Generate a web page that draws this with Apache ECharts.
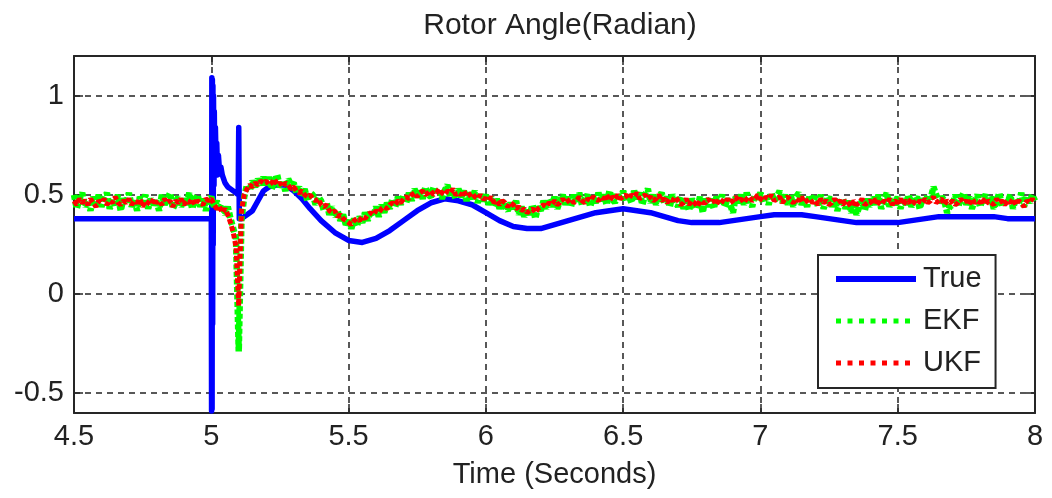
<!DOCTYPE html>
<html>
<head>
<meta charset="utf-8">
<title>Rotor Angle</title>
<script src="https://cdn.jsdelivr.net/npm/echarts@6/dist/echarts.min.js"></script>
<style>
    html, body { margin: 0; padding: 0; background: #fff; }
    #main { width: 1052px; height: 498px; }
</style>
</head>
<body>
<div id="main"></div>
<script>
// 时间刻度 / 纵轴刻度
const xTicks = [4.5, 5, 5.5, 6, 6.5, 7, 7.5, 8];
const yTicks = [-0.5, 0, 0.5, 1];

// True 曲线 (时间, 角度)
const trueTime = [4.5, 5.0, 5.001, 5.002, 5.003, 5.004, 5.005, 5.006, 5.007, 5.008, 5.010, 5.011, 5.013, 5.015, 5.018, 5.020,
    5.023, 5.026, 5.030, 5.035, 5.040, 5.050, 5.060, 5.070, 5.080, 5.090, 5.098, 5.100, 5.102, 5.110, 5.130, 5.150,
    5.170, 5.190, 5.210, 5.240, 5.270, 5.30, 5.33, 5.36, 5.40, 5.45, 5.50, 5.55, 5.60, 5.65, 5.70, 5.75, 5.80, 5.85,
    5.90, 5.95, 6.00, 6.05, 6.10, 6.15, 6.20, 6.25, 6.30, 6.35, 6.40, 6.45, 6.50, 6.55, 6.60, 6.65, 6.70, 6.75, 6.80,
    6.85, 6.90, 6.95, 7.00, 7.05, 7.10, 7.15, 7.20, 7.25, 7.30, 7.35, 7.40, 7.45, 7.50, 7.55, 7.60, 7.65, 7.70, 7.75,
    7.80, 7.85, 7.90, 7.95, 8.00];
const trueAngle = [0.38, 0.38, -0.59, 1.09, -0.58, 1.08, -0.15, 1.05, 0.25, 1.00, 0.55, 0.92, 0.62, 0.84, 0.63, 0.76,
    0.60, 0.70, 0.62, 0.64, 0.60, 0.56, 0.54, 0.53, 0.52, 0.51, 0.50, 0.84, 0.38, 0.38, 0.40, 0.42,
    0.47, 0.52, 0.54, 0.55, 0.55, 0.52, 0.48, 0.43, 0.37, 0.31, 0.27, 0.26, 0.28, 0.32, 0.37, 0.42, 0.46, 0.48,
    0.47, 0.45, 0.41, 0.37, 0.34, 0.33, 0.33, 0.35, 0.37, 0.39, 0.41, 0.42, 0.43, 0.42, 0.41, 0.39, 0.37, 0.36, 0.36,
    0.36, 0.37, 0.38, 0.39, 0.40, 0.40, 0.40, 0.39, 0.38, 0.37, 0.36, 0.36, 0.36, 0.36, 0.37, 0.38, 0.39, 0.39, 0.39,
    0.39, 0.39, 0.38, 0.38, 0.38];

// EKF / UKF 估计值, 从 4.5s 开始每 0.01s 一个点
const filterStart = 4.5;
const filterStep = 0.01;
const ekfAngle = [
    0.50, 0.43, 0.48, 0.51, 0.44, 0.47, 0.42, 0.49, 0.45, 0.50,
    0.44, 0.48, 0.51, 0.43, 0.47, 0.45, 0.50, 0.42, 0.48, 0.46,
    0.51, 0.44, 0.47, 0.42, 0.49, 0.46, 0.50, 0.43, 0.48, 0.45,
    0.47, 0.42, 0.50, 0.45, 0.48, 0.51, 0.43, 0.46, 0.49, 0.44,
    0.48, 0.45, 0.51, 0.43, 0.47, 0.50, 0.44, 0.48, 0.42, 0.47,
    0.49, 0.44, 0.47, 0.42, 0.45, 0.40, 0.44, 0.38, 0.33, 0.28,
    -0.29, 0.38, 0.49, 0.55, 0.52, 0.57, 0.54, 0.58, 0.55, 0.59,
    0.55, 0.59, 0.53, 0.57, 0.60, 0.54, 0.56, 0.52, 0.58, 0.55,
    0.56, 0.51, 0.54, 0.49, 0.53, 0.47, 0.51, 0.50, 0.45, 0.49,
    0.47, 0.42, 0.46, 0.40, 0.44, 0.39, 0.42, 0.37, 0.40, 0.35,
    0.37, 0.33, 0.38, 0.34, 0.39, 0.36, 0.41, 0.37, 0.42, 0.39,
    0.44, 0.39, 0.45, 0.41, 0.46, 0.43, 0.48, 0.44, 0.49, 0.45,
    0.50, 0.46, 0.51, 0.47, 0.53, 0.49, 0.52, 0.48, 0.54, 0.50,
    0.49, 0.54, 0.50, 0.53, 0.48, 0.52, 0.55, 0.49, 0.52, 0.48,
    0.53, 0.49, 0.52, 0.47, 0.51, 0.48, 0.52, 0.46, 0.50, 0.47,
    0.50, 0.45, 0.49, 0.44, 0.48, 0.43, 0.47, 0.44, 0.42, 0.46,
    0.43, 0.47, 0.40, 0.44, 0.39, 0.43, 0.40, 0.45, 0.38, 0.44,
    0.42, 0.47, 0.43, 0.48, 0.44, 0.49, 0.43, 0.47, 0.50, 0.45,
    0.49, 0.44, 0.50, 0.46, 0.51, 0.45, 0.48, 0.50, 0.44, 0.49,
    0.46, 0.51, 0.47, 0.50, 0.45, 0.52, 0.48, 0.46, 0.51, 0.47,
    0.52, 0.47, 0.50, 0.46, 0.52, 0.48, 0.51, 0.45, 0.50, 0.53,
    0.46, 0.50, 0.45, 0.49, 0.51, 0.46, 0.49, 0.44, 0.50, 0.47,
    0.44, 0.49, 0.43, 0.47, 0.42, 0.48, 0.45, 0.43, 0.49, 0.41,
    0.49, 0.44, 0.48, 0.43, 0.49, 0.46, 0.50, 0.44, 0.48, 0.45,
    0.41, 0.49, 0.46, 0.50, 0.45, 0.51, 0.47, 0.44, 0.50, 0.48,
    0.51, 0.46, 0.50, 0.45, 0.51, 0.47, 0.49, 0.52, 0.46, 0.50,
    0.45, 0.50, 0.44, 0.49, 0.51, 0.45, 0.48, 0.44, 0.50, 0.47,
    0.49, 0.44, 0.50, 0.43, 0.47, 0.49, 0.44, 0.48, 0.42, 0.46,
    0.48, 0.43, 0.47, 0.41, 0.45, 0.40, 0.44, 0.47, 0.42, 0.48,
    0.44, 0.49, 0.45, 0.50, 0.43, 0.47, 0.51, 0.44, 0.48, 0.45,
    0.49, 0.43, 0.48, 0.45, 0.50, 0.44, 0.47, 0.49, 0.43, 0.48,
    0.46, 0.50, 0.48, 0.54, 0.50, 0.46, 0.49, 0.47, 0.41, 0.44,
    0.45, 0.50, 0.44, 0.48, 0.51, 0.45, 0.49, 0.43, 0.47, 0.50,
    0.44, 0.48, 0.50, 0.45, 0.49, 0.43, 0.47, 0.51, 0.44, 0.48,
    0.46, 0.50, 0.43, 0.48, 0.45, 0.51, 0.44, 0.49, 0.46, 0.50,
    0.47
];
const ukfAngle = [
    0.47, 0.45, 0.48, 0.46, 0.47, 0.45, 0.48, 0.46, 0.44, 0.47,
    0.46, 0.48, 0.45, 0.47, 0.46, 0.49, 0.46, 0.45, 0.47, 0.46,
    0.48, 0.45, 0.47, 0.46, 0.48, 0.44, 0.47, 0.46, 0.45, 0.48,
    0.46, 0.47, 0.45, 0.48, 0.46, 0.47, 0.44, 0.47, 0.46, 0.48,
    0.45, 0.47, 0.46, 0.48, 0.45, 0.47, 0.46, 0.45, 0.48, 0.47,
    0.48, 0.45, 0.43, 0.44, 0.41, 0.43, 0.40, 0.36, 0.31, 0.24,
    -0.06, 0.42, 0.50, 0.53, 0.55, 0.54, 0.56, 0.55, 0.57, 0.56,
    0.57, 0.55, 0.56, 0.58, 0.55, 0.56, 0.54, 0.56, 0.55, 0.53,
    0.54, 0.52, 0.51, 0.52, 0.50, 0.49, 0.50, 0.48, 0.47, 0.48,
    0.45, 0.44, 0.45, 0.42, 0.41, 0.42, 0.39, 0.40, 0.38, 0.37,
    0.36, 0.35, 0.37, 0.38, 0.37, 0.39, 0.38, 0.40, 0.41, 0.40,
    0.42, 0.41, 0.43, 0.44, 0.43, 0.45, 0.46, 0.45, 0.47, 0.46,
    0.48, 0.49, 0.48, 0.50, 0.51, 0.49, 0.51, 0.52, 0.50, 0.51,
    0.52, 0.50, 0.51, 0.53, 0.51, 0.50, 0.52, 0.51, 0.53, 0.50,
    0.51, 0.50, 0.52, 0.49, 0.50, 0.51, 0.49, 0.48, 0.50, 0.48,
    0.48, 0.47, 0.49, 0.46, 0.47, 0.45, 0.47, 0.46, 0.44, 0.46,
    0.45, 0.43, 0.44, 0.42, 0.43, 0.41, 0.42, 0.43, 0.41, 0.43,
    0.44, 0.45, 0.44, 0.46, 0.45, 0.47, 0.45, 0.46, 0.48, 0.46,
    0.47, 0.48, 0.46, 0.47, 0.49, 0.47, 0.46, 0.48, 0.47, 0.49,
    0.48, 0.47, 0.49, 0.48, 0.50, 0.47, 0.49, 0.48, 0.50, 0.48,
    0.49, 0.50, 0.48, 0.50, 0.49, 0.51, 0.48, 0.49, 0.50, 0.48,
    0.49, 0.47, 0.48, 0.50, 0.47, 0.48, 0.46, 0.48, 0.47, 0.49,
    0.47, 0.45, 0.46, 0.48, 0.45, 0.47, 0.46, 0.44, 0.47, 0.46,
    0.46, 0.48, 0.46, 0.47, 0.45, 0.48, 0.47, 0.46, 0.48, 0.46,
    0.47, 0.49, 0.47, 0.48, 0.46, 0.48, 0.49, 0.47, 0.48, 0.50,
    0.48, 0.47, 0.49, 0.48, 0.50, 0.47, 0.48, 0.49, 0.46, 0.48,
    0.49, 0.47, 0.46, 0.48, 0.47, 0.49, 0.46, 0.47, 0.48, 0.46,
    0.47, 0.45, 0.48, 0.46, 0.47, 0.45, 0.46, 0.48, 0.46, 0.47,
    0.45, 0.47, 0.46, 0.44, 0.47, 0.45, 0.46, 0.48, 0.45, 0.46,
    0.47, 0.45, 0.48, 0.46, 0.45, 0.47, 0.46, 0.48, 0.45, 0.47,
    0.46, 0.48, 0.45, 0.47, 0.46, 0.48, 0.46, 0.45, 0.47, 0.46,
    0.48, 0.46, 0.47, 0.49, 0.46, 0.47, 0.48, 0.45, 0.47, 0.46,
    0.47, 0.45, 0.46, 0.48, 0.46, 0.47, 0.45, 0.48, 0.46, 0.47,
    0.46, 0.48, 0.45, 0.47, 0.46, 0.45, 0.48, 0.46, 0.47, 0.45,
    0.47, 0.46, 0.48, 0.45, 0.47, 0.46, 0.44, 0.47, 0.46, 0.48,
    0.46
];

const FONT = 'Arial, "Liberation Sans", Helvetica, sans-serif';
const AXIS_COLOR = '#262626';

function toPairs(times, values) {
    return values.map(function (v, i) { return [times[i], v]; });
}
function filterPairs(values) {
    return values.map(function (v, i) {
        return [+(filterStart + i * filterStep).toFixed(2), v];
    });
}

const myChart = echarts.init(document.getElementById('main'), null, { renderer: 'canvas' });

const gridLine = {
    show: true,
    lineStyle: { color: '#222', width: 1.5, type: [6, 5] }
};

// 图例里的线型 (MATLAB 风格的方点)
const legendItems = [
    { name: 'True', lineStyle: { color: '#0000ff', width: 6, type: 'solid' } },
    { name: 'EKF', lineStyle: { color: '#00ff00', width: 5, type: [5, 6.5] } },
    { name: 'UKF', lineStyle: { color: '#ff0000', width: 5, type: [5, 6.5] } }
];

const option = {
    animation: false,
    backgroundColor: '#fff',
    title: {
        text: 'Rotor Angle(Radian)',
        left: 555,
        textAlign: 'center',
        top: 6,
        textStyle: { fontFamily: FONT, fontSize: 30, fontWeight: 'normal', color: '#222' }
    },
    grid: { left: 74, right: 17, top: 56, bottom: 85 },
    legend: {
        orient: 'vertical',
        left: 818,
        top: 255,
        padding: [9, 14, 10, 15],
        itemWidth: 80,
        itemHeight: 30,
        itemGap: 12,
        backgroundColor: '#fff',
        borderColor: AXIS_COLOR,
        borderWidth: 2,
        borderRadius: 0,
        itemStyle: { opacity: 0 },
        textStyle: { fontFamily: FONT, fontSize: 29, color: '#222', lineHeight: 30, padding: [0, 0, 0, 2] },
        data: legendItems
    },
    xAxis: [
        {
            type: 'value',
            min: 4.5,
            max: 8,
            interval: 0.5,
            name: 'Time (Seconds)',
            nameLocation: 'middle',
            nameGap: 47,
            nameTextStyle: { fontFamily: FONT, fontSize: 29, color: '#222' },
            axisLine: { show: true, onZero: false, lineStyle: { color: AXIS_COLOR, width: 2 } },
            axisTick: { show: true, inside: true, length: 9, lineStyle: { color: AXIS_COLOR, width: 1.5 } },
            axisLabel: {
                fontFamily: FONT, fontSize: 29, color: '#222', margin: 9,
                formatter: function (v) { return xTicks.indexOf(v) >= 0 ? String(v) : ''; }
            },
            splitLine: gridLine
        },
        {
            type: 'value',
            position: 'top',
            min: 4.5,
            max: 8,
            interval: 0.5,
            axisLine: { show: true, onZero: false, lineStyle: { color: AXIS_COLOR, width: 2 } },
            axisTick: { show: true, inside: true, length: 9, lineStyle: { color: AXIS_COLOR, width: 1.5 } },
            axisLabel: { show: false },
            splitLine: { show: false }
        }
    ],
    yAxis: [
        {
            type: 'value',
            min: -0.6,
            max: 1.2,
            axisLine: { show: true, onZero: false, lineStyle: { color: AXIS_COLOR, width: 2 } },
            axisTick: { show: true, inside: true, length: 9, customValues: yTicks, lineStyle: { color: AXIS_COLOR, width: 1.5 } },
            axisLabel: {
                fontFamily: FONT, fontSize: 29, color: '#222', margin: 10,
                customValues: yTicks,
                formatter: function (v) { return String(v); }
            },
            splitLine: gridLine
        },
        {
            type: 'value',
            position: 'right',
            min: -0.6,
            max: 1.2,
            axisLine: { show: true, onZero: false, lineStyle: { color: AXIS_COLOR, width: 2 } },
            axisTick: { show: true, inside: true, length: 9, customValues: yTicks, lineStyle: { color: AXIS_COLOR, width: 1.5 } },
            axisLabel: { show: false },
            splitLine: { show: false }
        }
    ],
    series: [
        {
            name: 'True',
            type: 'line',
            data: toPairs(trueTime, trueAngle),
            showSymbol: false,
            symbol: 'none',
            lineStyle: { color: '#0000ff', width: 5.5, join: 'round' },
            itemStyle: { color: '#0000ff' },
            z: 2
        },
        {
            name: 'EKF',
            type: 'line',
            data: filterPairs(ekfAngle),
            showSymbol: false,
            symbol: 'none',
            lineStyle: { color: '#00ff00', width: 6.5, type: [5, 2.5] },
            itemStyle: { color: '#00ff00' },
            z: 3
        },
        {
            name: 'UKF',
            type: 'line',
            data: filterPairs(ukfAngle),
            showSymbol: false,
            symbol: 'none',
            lineStyle: { color: '#ff0000', width: 5, type: [5, 2.5] },
            itemStyle: { color: '#ff0000' },
            z: 4
        }
    ]
};

myChart.setOption(option);
</script>
</body>
</html>
